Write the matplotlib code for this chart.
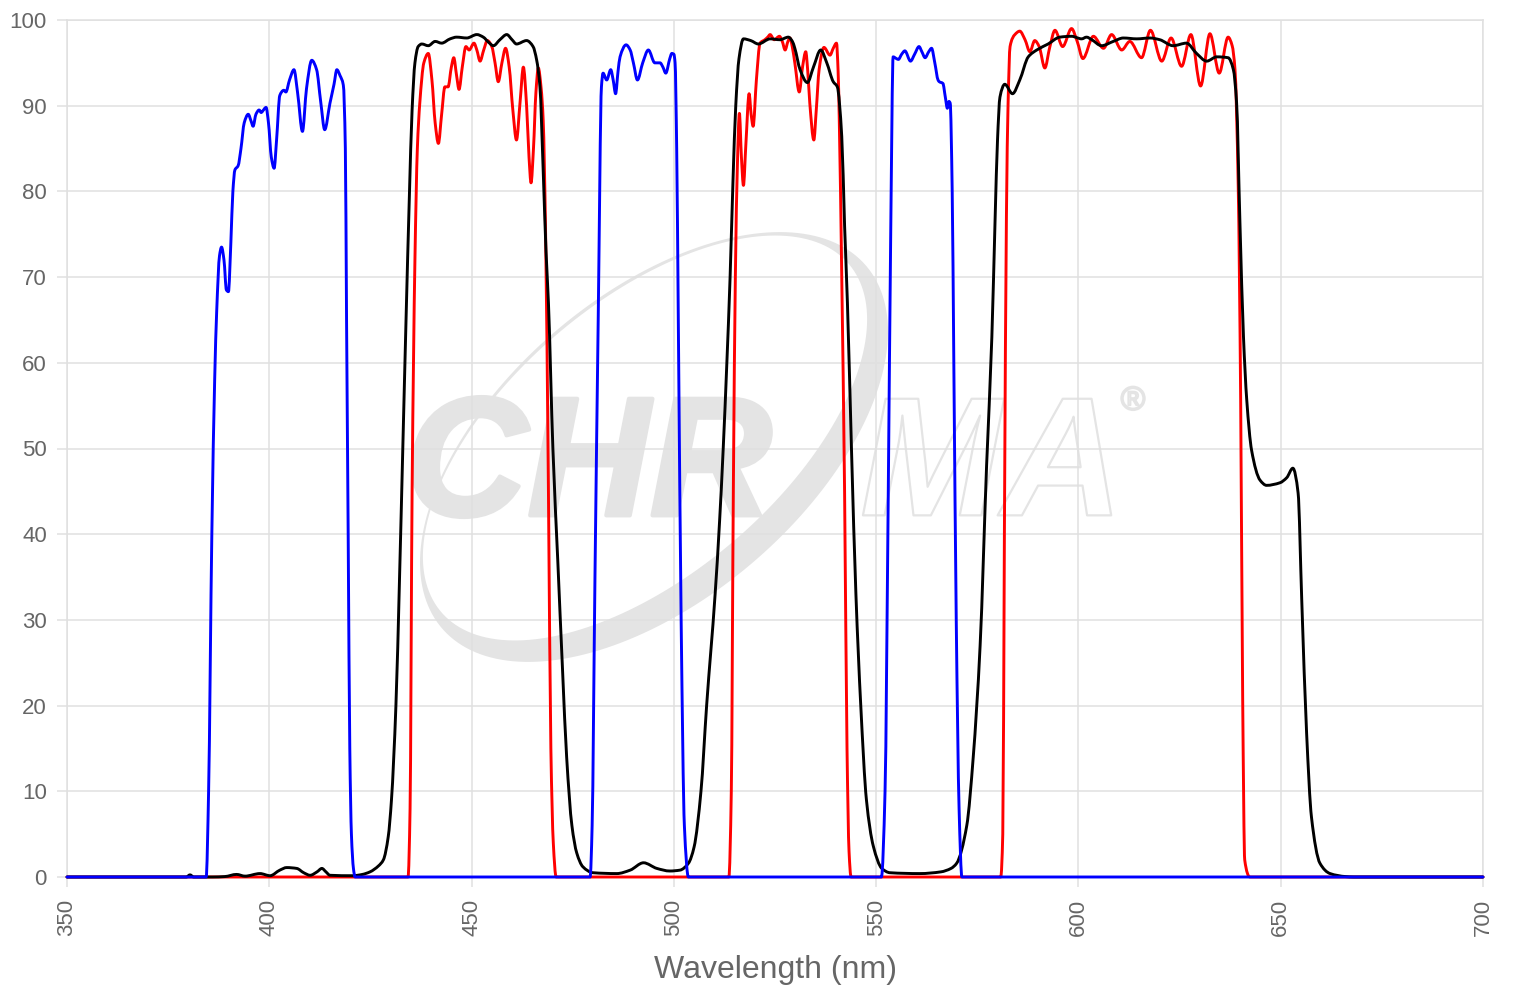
import numpy as np
import matplotlib
matplotlib.use("Agg")
import matplotlib.pyplot as plt
from matplotlib.path import Path
from matplotlib.patches import PathPatch
from matplotlib.transforms import IdentityTransform
from matplotlib import font_manager
import matplotlib.patheffects as pe

plt.rcParams['font.family'] = ['Liberation Sans', 'DejaVu Sans']

# ---------------- data ----------------
blue_x = [350, 384.4, 385.0, 385.8, 386.5, 387.0, 387.7, 388.2, 388.8, 389.4, 389.9, 390.5, 391.0, 391.5,
          392.3, 393.0, 393.8, 394.8, 395.5, 396.0, 396.7, 397.5, 398.0, 398.4, 399.2, 399.8, 400.5,
          401.2, 401.8, 402.6, 403.6, 404.1, 405.0, 406.1, 407.0, 408.2, 409.2, 410.5, 411.7, 412.7,
          413.7, 415.0, 416.0, 416.7, 417.5, 418.3, 418.8, 419.1, 419.5, 419.9, 420.3, 420.8, 421.2,
          479.3, 479.8, 480.5, 481.3, 482.1, 482.5, 483.4, 484.4, 485.0, 485.6, 486.2, 486.7, 488.2,
          489.2, 490.0, 491.0, 492.3, 493.7, 495.3, 496.6, 497.3, 498.0, 499.0, 499.5, 500.0, 500.3,
          500.7, 501.1, 501.8, 502.6, 503.6,
          551.3, 552.2, 553.0, 553.6, 554.2, 555.0, 555.5, 556.3, 557.1, 558.5, 559.5, 560.6, 561.3,
          562.1, 563.0, 563.7, 564.5, 565.3, 565.6, 566.5, 567.1, 567.6, 568.0, 568.3, 568.8, 569.2,
          569.8, 570.5, 571.2, 700]
blue_y = [0, 0, 10, 40, 58, 66, 72.5, 73.5, 72, 68.5, 68.3, 74, 80, 82.5,
          83, 85, 88, 89.0, 88.2, 87.6, 89, 89.5, 89.2, 89.4, 89.8, 88, 84,
          82.7, 86, 91.2, 91.8, 91.6, 93, 94.2, 91.5, 87.0, 92, 95.3, 94.2, 90.5,
          87.2, 90.3, 92.5, 94.2, 93.5, 92.4, 85, 65, 40, 15, 5, 1, 0,
          0, 6, 35, 65, 92.2, 93.8, 93.0, 94.2, 93, 91.4, 94, 95.7, 97.1,
          96.5, 95, 93.0, 95, 96.5, 95.0, 95.0, 94.5, 93.8, 95.5, 96.1, 96, 95.0,
          85, 65, 30, 6, 0,
          0, 10, 45, 75, 95.7, 95.5, 95.4, 96, 96.4, 95.2, 96, 96.9, 96.3,
          95.6, 96.3, 96.7, 95, 93, 92.8, 92.6, 91, 89.7, 90.5, 90.3, 80, 60,
          30, 8, 0, 0]

red_x = [350, 434.3, 434.8, 435.3, 436.0, 436.6, 437.2, 438.2, 439.3, 440.2, 441.0, 441.8, 442.6, 443.4,
         444.2, 445.0, 445.6, 446.3, 446.9, 447.7, 448.6, 449.4, 450.6, 451.3, 452.1, 453.0, 453.9,
         455.0, 455.8, 456.6, 457.5, 458.4, 459.3, 460.2, 461.1, 462.0, 462.8, 463.6, 464.2, 464.7,
         465.3, 465.9, 466.5, 467.2, 467.7, 468.3, 469.0, 469.6, 470.2, 470.9,
         513.6, 514.2, 514.7, 515.2, 515.7, 516.2, 516.7, 517.2, 517.8, 518.6, 519.1, 519.6, 520.4,
         521.3, 522.5, 523.2, 523.8, 524.8, 526.1, 526.8, 527.5, 528.2, 528.7, 529.3, 529.9, 531.0,
         531.8, 532.6, 533.1, 533.6, 534.6, 535.2, 535.9, 537.1, 538.6, 539.4, 540.2, 540.6, 540.9,
         541.5, 542.2, 542.8, 543.3, 543.8,
         580.8, 581.3, 581.7, 582.2, 582.6, 583.1, 584.3, 585.5, 586.8, 588.0, 589.2, 590.3, 591.7,
         592.9, 594.2, 596.1, 598.3, 599.7, 601.1, 603.7, 606.2, 608.2, 610.7, 612.7, 615.6, 617.8,
         620.6, 622.9, 625.5, 627.8, 630.2, 632.5, 634.8, 637.0, 638.0, 638.7, 639.5, 640.1, 640.6,
         641.1, 642.4, 700]
red_y = [0, 0, 8, 45, 72, 85, 90.3, 95, 96.1, 93, 88, 85.6, 89, 92.2,
         92.2, 94.5, 95.6, 93.5, 91.9, 94.5, 96.9, 96.5, 97.3, 96.5, 95.2, 96.5, 97.6,
         96.9, 95, 92.8, 95, 96.7, 94.5, 89.5, 86.0, 90.5, 94.5, 90, 84, 81.0,
         85, 91.5, 94.4, 92, 88.3, 75, 45, 15, 4, 0,
         0, 10, 45, 70, 83, 89.1, 84, 80.7, 85.5, 91.4, 89, 87.6, 93,
         97.3, 97.7, 98.0, 98.3, 97.7, 98.1, 97.5, 96.5, 97.5, 97.9, 96.8, 95.0, 91.6,
         94.5, 96.3, 94, 90.3, 86.0, 89.5, 94.2, 96.8, 95.9, 96.7, 97.3, 94, 88,
         70, 45, 15, 3, 0,
         0, 5, 40, 77, 90, 96.9, 98.3, 98.7, 97.7, 96.3, 97.6, 96.9, 94.4,
         96.8, 98.8, 96.9, 99.0, 97.5, 95.5, 98.1, 96.7, 98.3, 96.5, 97.5, 95.6, 98.8,
         95.2, 97.9, 94.6, 98.3, 92.3, 98.4, 93.8, 98.0, 97, 94.2, 80.5, 55.7, 20.7,
         2.0, 0, 0]

black_x = [350, 379.5, 380.4, 381.3, 386, 389, 391.9, 394, 397.7, 400.2, 402.6, 404.3, 406.8, 408.5,
           410.1, 411.8, 413.0, 414.0, 415.0, 420.7, 423.0, 424.9, 427.0, 428.2, 429.4, 430.2, 431.3,
           432.2, 433.0, 433.8, 434.6, 435.3, 436.0, 436.8, 437.7, 439.3, 441.0, 442.6, 444.7, 446.3,
           448.8, 451.3, 452.9, 454.2, 455.4, 457.0, 458.7, 460.0, 461.1, 463.6, 465.2, 466.1, 466.9,
           467.7, 468.4, 469.0, 470.1, 471.3, 472.5, 473.5, 474.8, 476.0, 477.5, 480.0, 485.9, 489.2,
           492.5, 495.8, 499.0, 501.5, 503.6, 505.0, 506.7, 508.1, 510.2, 511.3, 512.2, 513.1, 513.9,
           514.6, 515.3, 516.1, 517.2, 519.0, 520.9, 523.8, 526.2, 528.3, 529.3, 529.9, 531.2, 533.0,
           534.5, 536.3, 537.8, 539.4, 540.4, 541.5, 542.2, 542.9, 543.9, 545.0, 546.2, 547.6, 549.3,
           551.4, 553.4, 560.8, 566.0, 568.5, 569.9, 572.4, 574.0, 575.7, 577.3, 578.6, 579.4, 580.0,
           580.6, 581.8, 583.7, 585.5, 587.6, 589.7, 592.5, 595.4, 598.3, 600.8, 602.0, 603.3, 605.7,
           608.6, 611.1, 614.4, 617.7, 620.1, 623.4, 626.7, 629.2, 631.7, 634.2, 637.0, 638.3, 639.1,
           639.9, 640.8, 641.6, 642.8, 644.9, 646.5, 649.8, 651.5, 653.0, 654.3, 655.2, 656.4, 657.6,
           659.7, 662.2, 666.0, 668.0, 700]
black_y = [0, 0, 0.25, 0, 0, 0.05, 0.3, 0.1, 0.4, 0.15, 0.8, 1.1, 1.0, 0.5,
           0.2, 0.6, 1.0, 0.6, 0.2, 0.15, 0.3, 0.6, 1.3, 2, 4.7, 9, 20,
           35, 50, 65, 79, 89.5, 95, 96.9, 97.2, 97.0, 97.5, 97.3, 97.8, 98.0,
           97.9, 98.3, 98.0, 97.4, 97.0, 97.7, 98.3, 97.7, 97.2, 97.6, 96.9, 95.3, 92.2,
           82.5, 73, 67, 50, 37, 24, 14, 6, 2.8, 1.2, 0.5, 0.4, 0.8,
           1.66, 1.0, 0.7, 0.8, 1.6, 3.5, 10.0, 20, 33, 41.5, 50, 60, 70,
           81, 90, 95.5, 97.8, 97.6, 97.2, 97.8, 97.7, 98.0, 97.5, 96.7, 94.2, 92.7,
           94.5, 96.5, 95.0, 92.8, 92.2, 86.4, 76, 67, 50, 33, 20, 9, 3.6,
           1.0, 0.5, 0.4, 0.6, 1.0, 1.6, 6, 14, 27, 48, 63, 76.7, 86,
           91.0, 92.5, 91.4, 93.0, 95.7, 96.5, 97.2, 98.0, 98.1, 97.8, 98.0, 97.7, 97.0,
           97.5, 97.9, 97.8, 97.9, 97.7, 97.0, 97.3, 96.1, 95.2, 95.7, 95.6, 94.2, 90.3,
           76.7, 63, 55.7, 49.8, 46.3, 45.7, 46.0, 46.6, 47.7, 44.8, 32.3, 16.8, 7.0,
           1.6, 0.4, 0.05, 0, 0]

x_ticks = [350, 400, 450, 500, 550, 600, 650, 700]
y_ticks = [0, 10, 20, 30, 40, 50, 60, 70, 80, 90, 100]
x_label = "Wavelength (nm)"

# ---------------- helpers ----------------
def smooth_path(xs, ys):
    """Monotone cubic (PCHIP-style) Bezier path through the given points."""
    x = np.asarray(xs, float)
    y = np.asarray(ys, float)
    n = len(x)
    h = np.diff(x)
    d = np.diff(y) / h
    m = np.zeros(n)
    m[0] = d[0]
    m[-1] = d[-1]
    for k in range(1, n - 1):
        if d[k - 1] * d[k] <= 0:
            m[k] = 0.0
        else:
            w1 = 2 * h[k] + h[k - 1]
            w2 = h[k] + 2 * h[k - 1]
            m[k] = (w1 + w2) / (w1 / d[k - 1] + w2 / d[k])
    verts = [(x[0], y[0])]
    codes = [Path.MOVETO]
    for i in range(n - 1):
        hh = h[i]
        verts += [(x[i] + hh / 3, y[i] + m[i] * hh / 3),
                  (x[i + 1] - hh / 3, y[i + 1] - m[i + 1] * hh / 3),
                  (x[i + 1], y[i + 1])]
        codes += [Path.CURVE4] * 3
    return Path(verts, codes)

installed = {f.name for f in font_manager.fontManager.ttflist}
logo_font = 'Liberation Sans Narrow' if 'Liberation Sans Narrow' in installed else 'Liberation Sans'
logo_size = 138 if logo_font == 'Liberation Sans Narrow' else 122

# ---------------- figure ----------------
fig = plt.figure(figsize=(15.2, 10), dpi=100)
ax = fig.add_axes([67 / 1520, 1 - 877 / 1000, (1483 - 67) / 1520, (877 - 20) / 1000])
ax.set_xlim(350, 700)
ax.set_ylim(0, 100)

grid_c = '#e0e0e0'
ax.set_axisbelow(True)
ax.grid(True, color=grid_c, linewidth=1.1)
for s in ax.spines.values():
    s.set_color(grid_c)
    s.set_linewidth(1.1)

ax.set_xticks(x_ticks)
ax.set_yticks(y_ticks)
ax.set_xticklabels([str(v) for v in x_ticks], rotation=90)
ax.tick_params(axis='both', length=7.5, width=1.1, color=grid_c,
               labelcolor='#666666', labelsize=16)
ax.tick_params(axis='y', pad=7)
ax.tick_params(axis='x', pad=8)
ax.set_xlabel(x_label, fontsize=23, color='#666666', labelpad=14)

# ---------------- watermark (CHROMA logo) ----------------
wm = '#e4e4e4'
H = 1000.0

def ellipse_verts(cx, cy, a, b, ang, reverse=False, npts=200):
    t = np.linspace(0, 2 * np.pi, npts)
    if reverse:
        t = t[::-1]
    ca, sa = np.cos(np.radians(ang)), np.sin(np.radians(ang))
    ex = a * np.cos(t)
    ey = b * np.sin(t)
    return np.column_stack([cx + ex * ca - ey * sa, cy + ex * sa + ey * ca])

cxo, cyo = 654, H - 447
outer = ellipse_verts(cxo, cyo, 279, 152, 40.5)
inner = ellipse_verts(cxo - 9, cyo + 9, 268, 136, 40.5, reverse=True)
verts = np.vstack([outer, inner])
codes = ([Path.MOVETO] + [Path.LINETO] * (len(outer) - 2) + [Path.CLOSEPOLY] +
         [Path.MOVETO] + [Path.LINETO] * (len(inner) - 2) + [Path.CLOSEPOLY])
ring = PathPatch(Path(verts, codes), facecolor=wm, edgecolor='none',
                 transform=IdentityTransform(), zorder=0.2)
ax.add_patch(ring)

ax.text(433.5, 42.2, "CHR", fontsize=logo_size, fontweight='bold', fontstyle='italic',
        family=[logo_font, 'Liberation Sans'], color=wm, ha='left', va='baseline', zorder=0.3,
        path_effects=[pe.Stroke(linewidth=3, foreground=wm), pe.Normal()])
ax.text(546.0, 42.2, "MA", fontsize=logo_size, fontweight='bold', fontstyle='italic',
        family=[logo_font, 'Liberation Sans'], color='none', ha='left', va='baseline', zorder=0.3,
        path_effects=[pe.Stroke(linewidth=1.6, foreground=wm)])
ax.text(613.5, 55.5, "®", fontsize=24, color='none', ha='center', va='center', zorder=0.3,
        path_effects=[pe.Stroke(linewidth=1.4, foreground=wm)])

# ---------------- series ----------------
for xs, ys, col, z in [(red_x, red_y, '#ff0000', 3),
                       (black_x, black_y, '#000000', 4),
                       (blue_x, blue_y, '#0000ff', 5)]:
    p = PathPatch(smooth_path(xs, ys), facecolor='none', edgecolor=col,
                  linewidth=2.1, capstyle='round', joinstyle='round', zorder=z)
    p.set_clip_on(False)
    ax.add_patch(p)

fig.savefig("out.png", dpi=100)
